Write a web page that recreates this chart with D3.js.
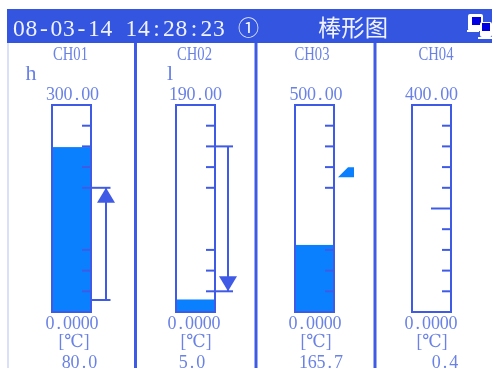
<!DOCTYPE html>
<html><head><meta charset="utf-8"><script src="https://cdn.jsdelivr.net/npm/d3@7"></script>
<style>html,body{margin:0;padding:0;background:#fff;overflow:hidden}svg{display:block;filter:blur(.45px)}</style></head><body><svg id="c" width="492" height="368"></svg>
<script>
const channels=["CH01","CH02","CH03","CH04"];
const rangeMax=[300,190,500,400];
const maxLabels=["300.00","190.00","500.00","400.00"];
const minLabels=["0.0000","0.0000","0.0000","0.0000"];
const barLevels=[239,11.5,162,0];
const readings=["80.0","5.0","165.7","0.4"];
const alarmTags=["h","l","",""];
const tickFractions=[[.9,.8,.7,.6,.3,.2,.1],[.9,.8,.7,.6,.3,.2,.1],[.9,.8,.7,.6,.3,.2,.1],[.9,.8,.7,.6,.4,.3,.2,.1]];
const midTick=[null,null,null,.5];
const arrows=[{from:.058,to:.6,dir:"up"},{from:.8,to:.1,dir:"down"},null,null];
const markerFraction=[null,null,.68,null];
const titleText="08-03-14 14:28:23",circled="①",screenTitle="棒形图",unit="[℃]";

const blue="#3f5be6",textBlue="#6a82e6",fill="#0a80ff",header="#3355e0",light="#f0f3ff";
const svg=d3.select("#c");
const font="'Liberation Serif','DejaVu Serif',serif";
const barX=d3.scaleOrdinal().domain(channels).range([52,176,295,412]);
const barW=39,barTop=105,barBottom=312;
const frac=d3.scaleLinear().domain([0,1]).range([barBottom,barTop]);
const nameX=d3.scaleOrdinal().domain(channels).range([70.5,194.5,312,436]);
const maxX=d3.scaleOrdinal().domain(channels).range([72.5,195.5,316,431.5]);
const minX=d3.scaleOrdinal().domain(channels).range([72,194,315,431]);
const unitX=d3.scaleOrdinal().domain(channels).range([74,196,316,432]);
const readX=d3.scaleOrdinal().domain(channels).range([79.5,192,321,445]);
const tagX=d3.scaleOrdinal().domain(channels).range([31,170,0,0]);

// fixed-pitch placement of proportional glyphs, like the instrument's half-width font
const adv={".":.25,":":.278,"-":.333," ":.25};
const monoXs=(s,cx,pitch,size)=>{const left=cx-pitch*s.length/2;return Array.from(s,(c,k)=>(left+k*pitch+(pitch-(adv[c]||.5)*size)/2).toFixed(1)).join(" ");};

svg.append("rect").attr("x",7).attr("y",9).attr("width",485).attr("height",34).attr("fill",header);
svg.append("text").attr("x",monoXs(titleText,119,12.5,23.5)).attr("y",36).attr("fill",light).attr("font-family",font).attr("font-size",23.5).text(titleText);
svg.append("text").attr("x",238).attr("y",35).attr("fill",light).attr("font-family","'Noto Sans CJK SC'").attr("font-size",21).attr("textLength",21).attr("lengthAdjust","spacingAndGlyphs").text(circled);
svg.append("text").attr("x",318).attr("y",36).attr("fill",light).attr("font-family","'Noto Sans CJK SC'").attr("font-size",23).attr("textLength",70).attr("lengthAdjust","spacingAndGlyphs").text(screenTitle);
// network icon
const icon=svg.append("g");
[[468,14,15,17,472,17,9,8],[480,22,12,15,482,23,8,8]].forEach(([x,y,w,h,bx,by,bw,bh])=>{
 icon.append("rect").attr("x",x).attr("y",y).attr("width",w).attr("height",h).attr("fill","#fff").attr("rx",2);
 icon.append("rect").attr("x",bx).attr("y",by).attr("width",bw).attr("height",bh).attr("fill","#0000e0");
});
[[467,30,12,2],[478,37,14,2]].forEach(([x,y,w,h])=>icon.append("rect").attr("x",x).attr("y",y).attr("width",w).attr("height",h).attr("fill","#fff"));

svg.append("line").attr("x1",8).attr("x2",8).attr("y1",43).attr("y2",368).attr("stroke","#b4c1f5").attr("stroke-width",1);
[135.5,256,375].forEach(x=>svg.append("line").attr("x1",x).attr("x2",x).attr("y1",43).attr("y2",368).attr("stroke",blue).attr("stroke-width",3));

channels.forEach((ch,i)=>{
 const g=svg.append("g"),x=barX(ch),v=d3.scaleLinear().domain([0,rangeMax[i]]).range([barBottom,barTop]);
 const t=(s,cx,ty,size,pitch)=>g.append("text").attr("x",monoXs(s,cx,pitch,size)).attr("y",ty).attr("fill",textBlue).attr("font-family",font).attr("font-size",size).text(s);
 const squeezed=(s,cx,ty,size,len)=>g.append("text").attr("x",cx).attr("y",ty).attr("fill",textBlue).attr("font-family",font).attr("font-size",size).attr("text-anchor","middle").attr("textLength",len).attr("lengthAdjust","spacingAndGlyphs").text(s);
 squeezed(ch,nameX(ch),60,18.5,35);
 if(alarmTags[i])g.append("text").attr("x",tagX(ch)).attr("y",80).attr("fill",textBlue).attr("font-family",font).attr("font-size",22).attr("text-anchor","middle").text(alarmTags[i]);
 t(maxLabels[i],maxX(ch),100,18,8.8);
 t(minLabels[i],minX(ch),329,18,8.8);
 squeezed(unit,unitX(ch),346.5,18,31);
 t(readings[i],readX(ch),367.5,18,8.8);
 g.append("rect").attr("x",x).attr("y",v(barLevels[i])).attr("width",barW).attr("height",barBottom-v(barLevels[i])).attr("fill",fill);
 g.append("rect").attr("x",x).attr("y",barTop).attr("width",barW).attr("height",barBottom-barTop).attr("fill","none").attr("stroke",blue).attr("stroke-width",2);
 tickFractions[i].forEach(f=>g.append("line").attr("x1",x+barW-9).attr("x2",x+barW).attr("y1",frac(f)).attr("y2",frac(f)).attr("stroke",blue).attr("stroke-width",2));
 if(midTick[i]!=null)g.append("line").attr("x1",x+barW-20).attr("x2",x+barW).attr("y1",frac(midTick[i])).attr("y2",frac(midTick[i])).attr("stroke",blue).attr("stroke-width",2);
 if(arrows[i]){
  const a=arrows[i],y0=frac(a.from),y1=frac(a.to),s=a.dir=="up"?1:-1,ax=x+barW+(s>0?15:13),ext=x+barW+(s>0?19.5:18);
  [y0,y1].forEach(y=>g.append("line").attr("x1",x+barW).attr("x2",ext).attr("y1",y).attr("y2",y).attr("stroke",blue).attr("stroke-width",2));
  g.append("line").attr("x1",ax).attr("x2",ax).attr("y1",y0).attr("y2",y1).attr("stroke",blue).attr("stroke-width",2);
  g.append("path").attr("d",d3.line()([[ax,y1],[ax+9,y1+15*s],[ax-9,y1+15*s]])+"Z").attr("fill",blue);
 }
 if(markerFraction[i]!=null){
  const my=frac(markerFraction[i]),mx=x+barW+4;
  g.append("path").attr("d",d3.line()([[mx,my+6],[mx+10,my-4],[mx+16,my-4],[mx+16,my+6]])+"Z").attr("fill",fill);
 }
});
</script></body></html>
